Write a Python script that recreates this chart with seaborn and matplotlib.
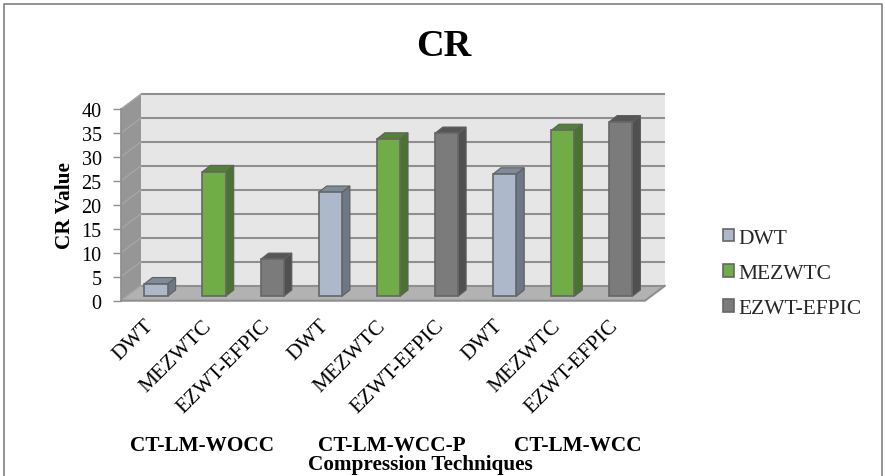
import numpy as np
import pandas as pd
import matplotlib
matplotlib.use('Agg')
import matplotlib.pyplot as plt
import seaborn as sns
from matplotlib.patches import Polygon
from matplotlib.transforms import Affine2D, IdentityTransform

# Data
groups = ['CT-LM-WOCC', 'CT-LM-WCC-P', 'CT-LM-WCC']
methods = ['DWT', 'MEZWTC', 'EZWT-EFPIC']
cr_wocc = [2.6, 26.0, 7.7]
cr_wcc_p = [21.7, 32.8, 34.0]
cr_wcc = [25.5, 34.6, 36.4]
y_ticks = [0, 5, 10, 15, 20, 25, 30, 35, 40]

face_colors = {'DWT': '#adb9ca', 'MEZWTC': '#70ad47', 'EZWT-EFPIC': '#7b7b7b'}
side_colors = {'DWT': '#6d7785', 'MEZWTC': '#4a7330', 'EZWT-EFPIC': '#505050'}
top_colors = {'DWT': '#7f8b9b', 'MEZWTC': '#548235', 'EZWT-EFPIC': '#565656'}

df = pd.DataFrame({
    'slot': [g + '/' + m for g in groups for m in methods],
    'method': methods * 3,
    'cr': cr_wocc + cr_wcc_p + cr_wcc,
})

W, H = 885, 477
sns.set_theme(style='white')
plt.rcParams['font.family'] = ['Liberation Serif', 'DejaVu Serif']

fig = plt.figure(figsize=(W / 100, H / 100), dpi=100)

# background layer in pixel coordinates (y going down)
bg = fig.add_axes([0, 0, 1, 1], zorder=0)
bg.set_xlim(0, W)
bg.set_ylim(H, 0)
bg.axis('off')

# the frame of the embedded chart, open at the bottom
bg.plot([3.5, 3.5, 882, 882], [H, 4.5, 4.5, H], color='#808080', lw=1.2)

# walls and floor
front_x0, front_x1 = 121, 645
front_y0, front_y40 = 301.7, 110
depth_x, depth_y = 20, -15
back_x0, back_x1 = front_x0 + depth_x, front_x1 + depth_x
back_y0, back_y40 = front_y0 + depth_y, front_y40 + depth_y
bg.add_patch(Polygon([(back_x0, back_y40), (back_x1, back_y40), (back_x1, back_y0), (back_x0, back_y0)],
                     fc='#e6e6e6', ec='none'))
bg.add_patch(Polygon([(front_x0, front_y40), (back_x0, back_y40), (back_x0, back_y0), (front_x0, front_y0)],
                     fc='#969696', ec='none'))
bg.add_patch(Polygon([(front_x0, front_y0), (back_x0, back_y0), (back_x1, back_y0), (front_x1, front_y0)],
                     fc='#b2b2b2', ec='none'))
for t in y_ticks:
    yb = back_y0 + (back_y40 - back_y0) * t / 40
    yf = front_y0 + (front_y40 - front_y0) * t / 40
    bg.plot([back_x0, back_x1], [yb, yb], color='#8f8f8f', lw=1.5, solid_capstyle='butt')
    bg.plot([front_x0, back_x0], [yf, yb], color='#a6a6a6', lw=1)
bg.plot([front_x0, front_x1, back_x1], [front_y0, front_y0, back_y0], color='#8f8f8f', lw=1.5)

# main axes: the value axis sits on the front left edge of the box
ax = fig.add_axes([front_x0 / W, 1 - front_y0 / H, (front_x1 - front_x0) / W, (front_y0 - front_y40) / H],
                  zorder=1)
ax.patch.set_alpha(0)
sns.barplot(data=df, x='slot', y='cr', hue='method', palette=face_colors, dodge=False, width=0.4,
            saturation=1, edgecolor='#666666', linewidth=1.2, ax=ax)

bar_step = 58.1
first_bar_px = 156
ax.set_xlim((front_x0 - first_bar_px) / bar_step, (front_x1 - first_bar_px) / bar_step)
ax.set_ylim(0, 40)

handles, labels = ax.get_legend_handles_labels()
ax.get_legend().remove()
fig.legend(handles, labels, loc='center left', bbox_to_anchor=(723 / W, 1 - 274.5 / H), frameon=False,
           fontsize=15.5, handlelength=0.52, handleheight=0.52, handletextpad=0.2, labelspacing=0.76,
           borderpad=0, borderaxespad=0)

# bars stand in the middle of the floor: shift them up and give them sides and a top
lift_px = front_y0 - 297.3
lift = Affine2D().translate(0, lift_px)
bar_dx, bar_dy = 8, 6.3
bars = [p for p in ax.patches if p.get_height() > 0 and p.get_width() > 0]
for bar in bars:
    x, w, h = bar.get_x(), bar.get_width(), bar.get_height()
    method = df.loc[int(round(x + w / 2)), 'method']
    bar.set_transform(ax.transData + lift)
    bar.set_clip_on(False)
    bar.set_zorder(3)
    x0, y0 = ax.transData.transform((x, 0)) + (0, lift_px)
    x1, y1 = ax.transData.transform((x + w, h)) + (0, lift_px)
    side = [(x1, y0), (x1 + bar_dx, y0 + bar_dy), (x1 + bar_dx, y1 + bar_dy), (x1, y1)]
    top = [(x0, y1), (x0 + bar_dx, y1 + bar_dy), (x1 + bar_dx, y1 + bar_dy), (x1, y1)]
    for pts, col in ((side, side_colors[method]), (top, top_colors[method])):
        ax.add_patch(Polygon(pts, closed=True, fc=col, ec='#5f5f5f', lw=0.8,
                             transform=IdentityTransform(), clip_on=False, zorder=2))

sns.despine(ax=ax, top=True, right=True, bottom=True, left=False)
ax.spines['left'].set_color('#8f8f8f')
ax.set_yticks(y_ticks)
ax.tick_params(axis='y', labelsize=14.5, length=6, color='#8f8f8f', width=1, pad=8, labelcolor='black', left=True)

# method labels end just left of each bar's centre
ax.set_xticks(np.arange(len(df)) - 0.2)
ax.set_xticklabels(df['method'], rotation=45, ha='right', rotation_mode='anchor', fontsize=15.5, color='black')
ax.tick_params(axis='x', length=0, pad=11, bottom=False)
ax.set_xlabel('')
ax.set_ylabel('CR Value', fontsize=15.3, fontweight='bold', color='black')
ax.yaxis.set_label_coords((75 - front_x0) / (front_x1 - front_x0), (front_y0 - 206) / (front_y0 - front_y40))

# title and lower captions
bg.text(444, 55.5, 'CR', fontsize=27.5, fontweight='bold', ha='center', va='baseline', color='black')
for g, gx in zip(groups, [202, 391.5, 577.5]):
    bg.text(gx, 446, g, fontsize=15.3, fontweight='bold', ha='center', va='center', color='black')
bg.text(420.5, 465, 'Compression Techniques', fontsize=15.3, fontweight='bold', ha='center', va='center',
        color='black')

fig.savefig('out.png', dpi=100, facecolor='white')
